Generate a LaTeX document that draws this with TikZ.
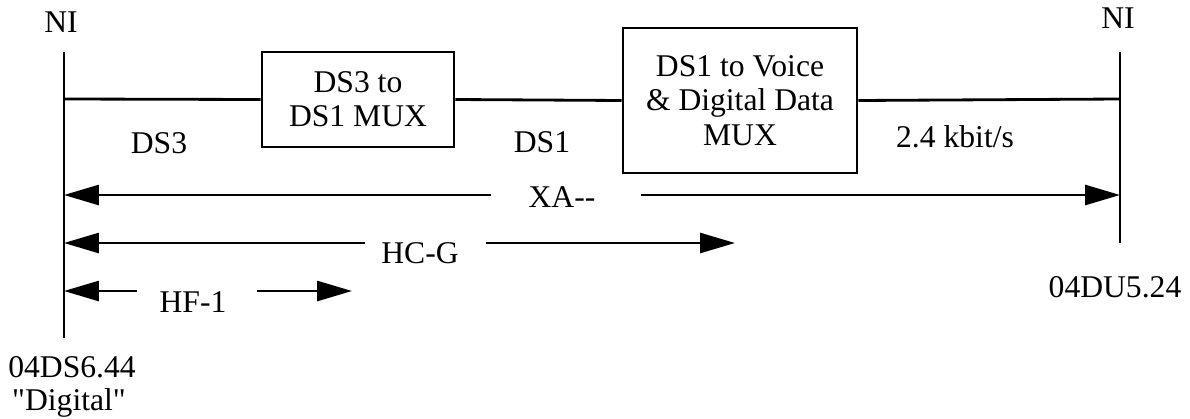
\documentclass[tikz,border=0pt]{standalone}
\usepackage{fontspec}
\setmainfont{Liberation Serif}[Ligatures=TeXOff]
\usetikzlibrary{arrows.meta, calc}
\begin{document}
\begin{tikzpicture}[x=0.02cm, y=-0.02cm, >={Triangle[length=0.7cm, width=0.4cm]}, line width=1.6pt,
        every node/.style={font=\fontsize{18}{19.5}\selectfont},
        muxbox/.style={draw, align=center, inner sep=0pt},
        lbl/.style={anchor=base, inner sep=0pt}]
        \useasboundingbox (0, 0) rectangle (1190, 419);
        % network interfaces
        \node[lbl] (niL) at (61, 32) {NI};
        \node[lbl] (niR) at (1118, 29) {NI};
        \coordinate (topL) at (64, 52);
        \coordinate (botL) at (64, 338);
        \coordinate (topR) at (1120, 52);
        \coordinate (botR) at (1120, 243);
        \draw (topL) -- (botL);
        \draw (topR) -- (botR);
        \node[lbl] (codeL) at (72, 377) {04DS6.44};
        \node[lbl] (dig) at (69, 410) {"Digital"};
        \node[lbl] (codeR) at (1115, 297) {04DU5.24};

        % multiplexers
        \node[muxbox, minimum width=3.84cm, minimum height=1.9cm] (mux1) at (358, 99.5) {DS3 to\\DS1 MUX};
        \node[muxbox, minimum width=4.68cm, minimum height=2.9cm] (mux2) at (740, 100.5) {DS1 to Voice\\\& Digital Data\\MUX};
        \coordinate (inL) at (64, 99);
        \coordinate (inR) at (1120, 99);
        \draw (inL) -- (mux1.west);
        \draw (mux1.east) -- (mux2.west);
        \draw (mux2.east) -- (inR);
        \node[lbl] (ds3) at (159, 153) {DS3};
        \node[lbl] (ds1) at (542, 152) {DS1};
        \node[lbl] (rate) at (955, 147) {2.4 kbit/s};

        % spans
        \node[lbl] (xa) at (562, 207) {XA--};
        \coordinate (xaL) at (64, 195);
        \coordinate (xaR) at (1120, 195);
        \coordinate (xa1) at (491, 195);
        \coordinate (xa2) at (641, 195);
        \draw[->] (xa1) -- (xaL);
        \draw[->] (xa2) -- (xaR);

        \node[lbl] (hcg) at (420, 263) {HC-G};
        \coordinate (hcgL) at (64, 243);
        \coordinate (hcgR) at (735, 243);
        \coordinate (hcg1) at (365, 243);
        \coordinate (hcg2) at (486, 243);
        \draw[->] (hcg1) -- (hcgL);
        \draw[->] (hcg2) -- (hcgR);

        \node[lbl] (hf1) at (193, 312) {HF-1};
        \coordinate (hf1L) at (64, 291);
        \coordinate (hf1R) at (352, 291);
        \coordinate (hf11) at (137, 291);
        \coordinate (hf12) at (257, 291);
        \draw[->] (hf11) -- (hf1L);
        \draw[->] (hf12) -- (hf1R);
\end{tikzpicture}
\end{document}
